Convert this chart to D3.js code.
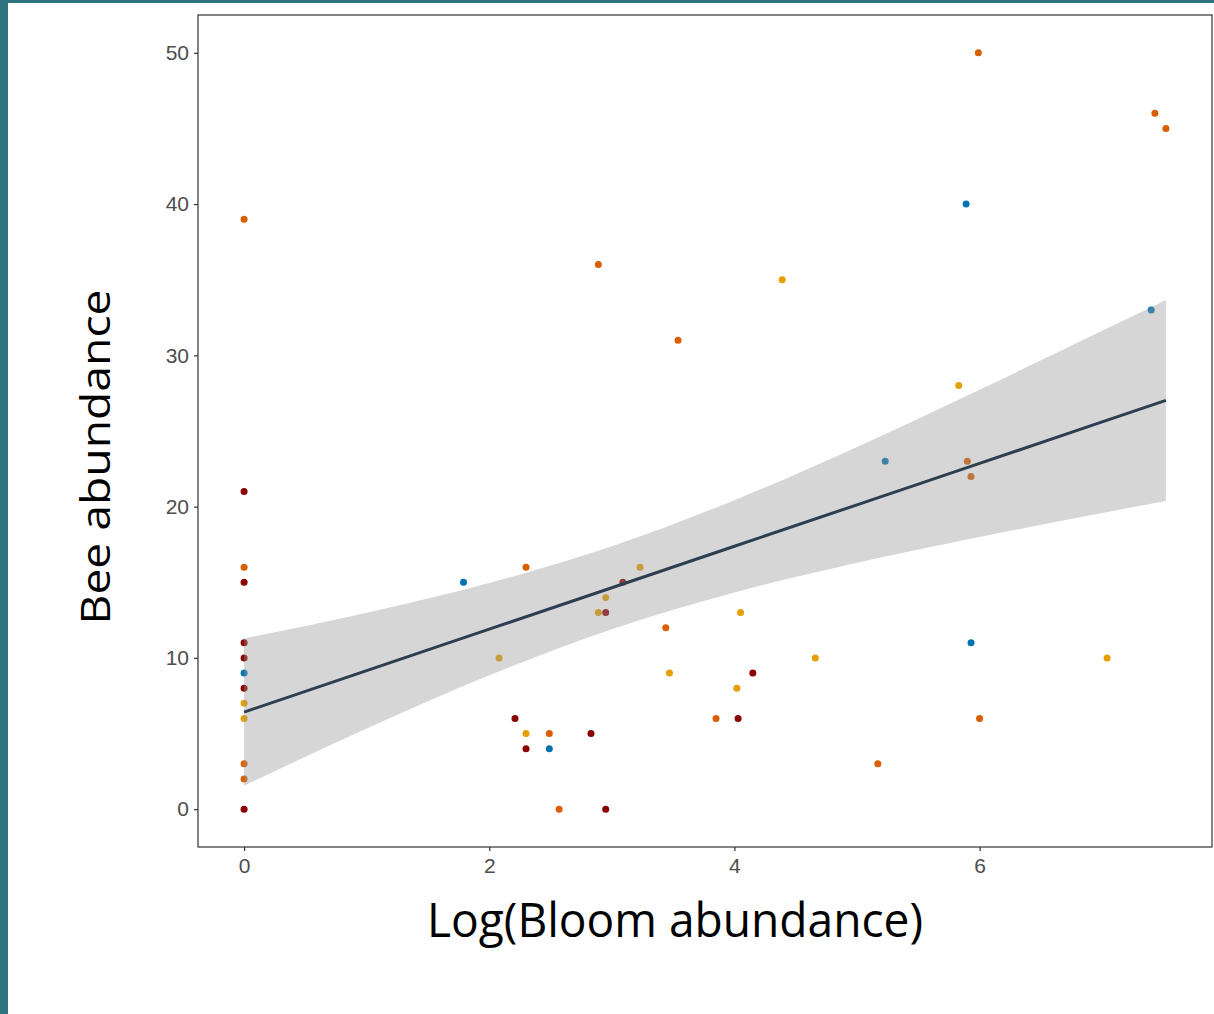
<!DOCTYPE html>
<html>
<head>
<meta charset="utf-8">
<script src="https://cdn.jsdelivr.net/npm/d3@7"></script>
<style>
  body { margin: 0; background: #fff; }
  svg { display: block; }
</style>
</head>
<body>
<svg id="chart" width="1214" height="1014"></svg>
<script>
// log bloom abundance, bee abundance and colour group for every point
const bloom = [
  0, 0, 0, 0, 0, 0, 0, 0, 0, 0, 0, 0, 0,
  1.79, 2.08, 2.30, 2.21, 2.30, 2.30, 2.49, 2.49, 2.57, 2.83,
  2.89, 2.89, 2.95, 2.95, 2.95, 3.09, 3.23, 3.44, 3.47, 3.54,
  3.85, 4.02, 4.03, 4.05, 4.15, 4.39, 4.66, 5.17, 5.23, 5.83,
  5.89, 5.90, 5.93, 5.93, 5.99, 6.00, 7.04, 7.40, 7.43, 7.52
];
const bees = [
  39, 21, 16, 15, 11, 10, 9, 8, 7, 6, 3, 2, 0,
  15, 10, 16, 6, 5, 4, 5, 4, 0, 5,
  36, 13, 14, 13, 0, 15, 16, 12, 9, 31,
  6, 8, 6, 13, 9, 35, 10, 3, 23, 28,
  40, 23, 22, 11, 50, 6, 10, 33, 46, 45
];
const group = [
  "orange", "red", "orange", "red", "red", "red", "blue", "red", "yellow", "yellow", "orange", "orange", "red",
  "blue", "yellow", "orange", "red", "yellow", "red", "orange", "blue", "orange", "red",
  "orange", "yellow", "yellow", "red", "red", "red", "yellow", "orange", "yellow", "orange",
  "orange", "yellow", "red", "yellow", "red", "yellow", "yellow", "orange", "blue", "yellow",
  "blue", "orange", "orange", "blue", "orange", "orange", "yellow", "blue", "orange", "orange"
];
const groupNames = ["red", "orange", "yellow", "blue"];
const groupColors = ["#8B0000", "#D95F00", "#E69F00", "#0072B2"];

// fitted trend and its 95% band
const fitX    = [0, 1, 2, 3, 4, 5, 6, 7, 7.52];
const fitMid  = [6.42, 9.16, 11.90, 14.64, 17.38, 20.12, 22.86, 25.60, 27.02];
const fitLow  = [1.55, 5.33, 8.85, 11.90, 14.33, 16.29, 17.99, 19.58, 20.38];
const fitHigh = [11.29, 12.99, 14.95, 17.38, 20.43, 23.95, 27.73, 31.62, 33.66];

const yTicks = [0, 10, 20, 30, 40, 50];
const xTicks = [0, 2, 4, 6];

const svg = d3.select("#chart");

// slide frame
svg.append("rect").attr("x", 0).attr("y", 0).attr("width", 1214).attr("height", 3).attr("fill", "#2D737D");
svg.append("rect").attr("x", 0).attr("y", 0).attr("width", 8).attr("height", 1014).attr("fill", "#2D737D");

const pLeft = 198, pRight = 1212, pTop = 15, pBottom = 847;

const xExt = d3.extent(bloom);
const xPad = (xExt[1] - xExt[0]) * 0.05;
const x = d3.scaleLinear().domain([xExt[0] - xPad, xExt[1] + xPad]).range([pLeft, pRight]);
const y = d3.scaleLinear().domain([-2.5, 52.5]).range([pBottom, pTop]);
const color = d3.scaleOrdinal().domain(groupNames).range(groupColors);

const pts = bloom.map((b, i) => ({x: b, y: bees[i], g: group[i]}));

// points (drawn under the ribbon, like the original)
svg.append("g")
  .selectAll("circle")
  .data(pts)
  .enter()
  .append("circle")
  .attr("cx", d => x(d.x))
  .attr("cy", d => y(d.y))
  .attr("r", 3.5)
  .attr("fill", d => color(d.g));

const fit = fitX.map((v, i) => ({x: v, y: fitMid[i], lo: fitLow[i], hi: fitHigh[i]}));

svg.append("path")
  .datum(fit)
  .attr("d", d3.area().curve(d3.curveMonotoneX).x(d => x(d.x)).y0(d => y(d.lo)).y1(d => y(d.hi)))
  .attr("fill", "#999999")
  .attr("fill-opacity", 0.4);

svg.append("path")
  .datum(fit)
  .attr("d", d3.line().x(d => x(d.x)).y(d => y(d.y)))
  .attr("fill", "none")
  .attr("stroke", "#2C3E50")
  .attr("stroke-width", 3);

// panel border
svg.append("rect")
  .attr("x", pLeft).attr("y", pTop)
  .attr("width", pRight - pLeft).attr("height", pBottom - pTop)
  .attr("fill", "none").attr("stroke", "#333333").attr("stroke-width", 1.2);

// axes
const yAxis = svg.append("g")
  .attr("transform", "translate(" + pLeft + ",0)")
  .call(d3.axisLeft(y).tickValues(yTicks).tickSize(4).tickPadding(5));
const xAxis = svg.append("g")
  .attr("transform", "translate(0," + pBottom + ")")
  .call(d3.axisBottom(x).tickValues(xTicks).tickSize(4).tickPadding(7));

[xAxis, yAxis].forEach(a => {
  a.select(".domain").remove();
  a.selectAll(".tick line").attr("stroke", "#333333").attr("stroke-width", 1.2);
  a.selectAll(".tick text")
    .attr("fill", "#4D4D4D")
    .style("font-family", "'Liberation Sans', Arial, sans-serif")
    .style("font-size", "21px");
});

// axis titles
svg.append("text")
  .attr("transform", "translate(110,457) rotate(-90)")
  .attr("text-anchor", "middle")
  .attr("textLength", 335)
  .attr("lengthAdjust", "spacingAndGlyphs")
  .style("font-family", "'Open Sans', sans-serif")
  .style("font-size", "40px")
  .attr("fill", "#000")
  .text("Bee abundance");

svg.append("text")
  .attr("x", 675)
  .attr("y", 937)
  .attr("text-anchor", "middle")
  .attr("textLength", 496)
  .attr("lengthAdjust", "spacingAndGlyphs")
  .style("font-family", "'Open Sans', sans-serif")
  .style("font-size", "48px")
  .attr("fill", "#000")
  .text("Log(Bloom abundance)");
</script>
</body>
</html>
